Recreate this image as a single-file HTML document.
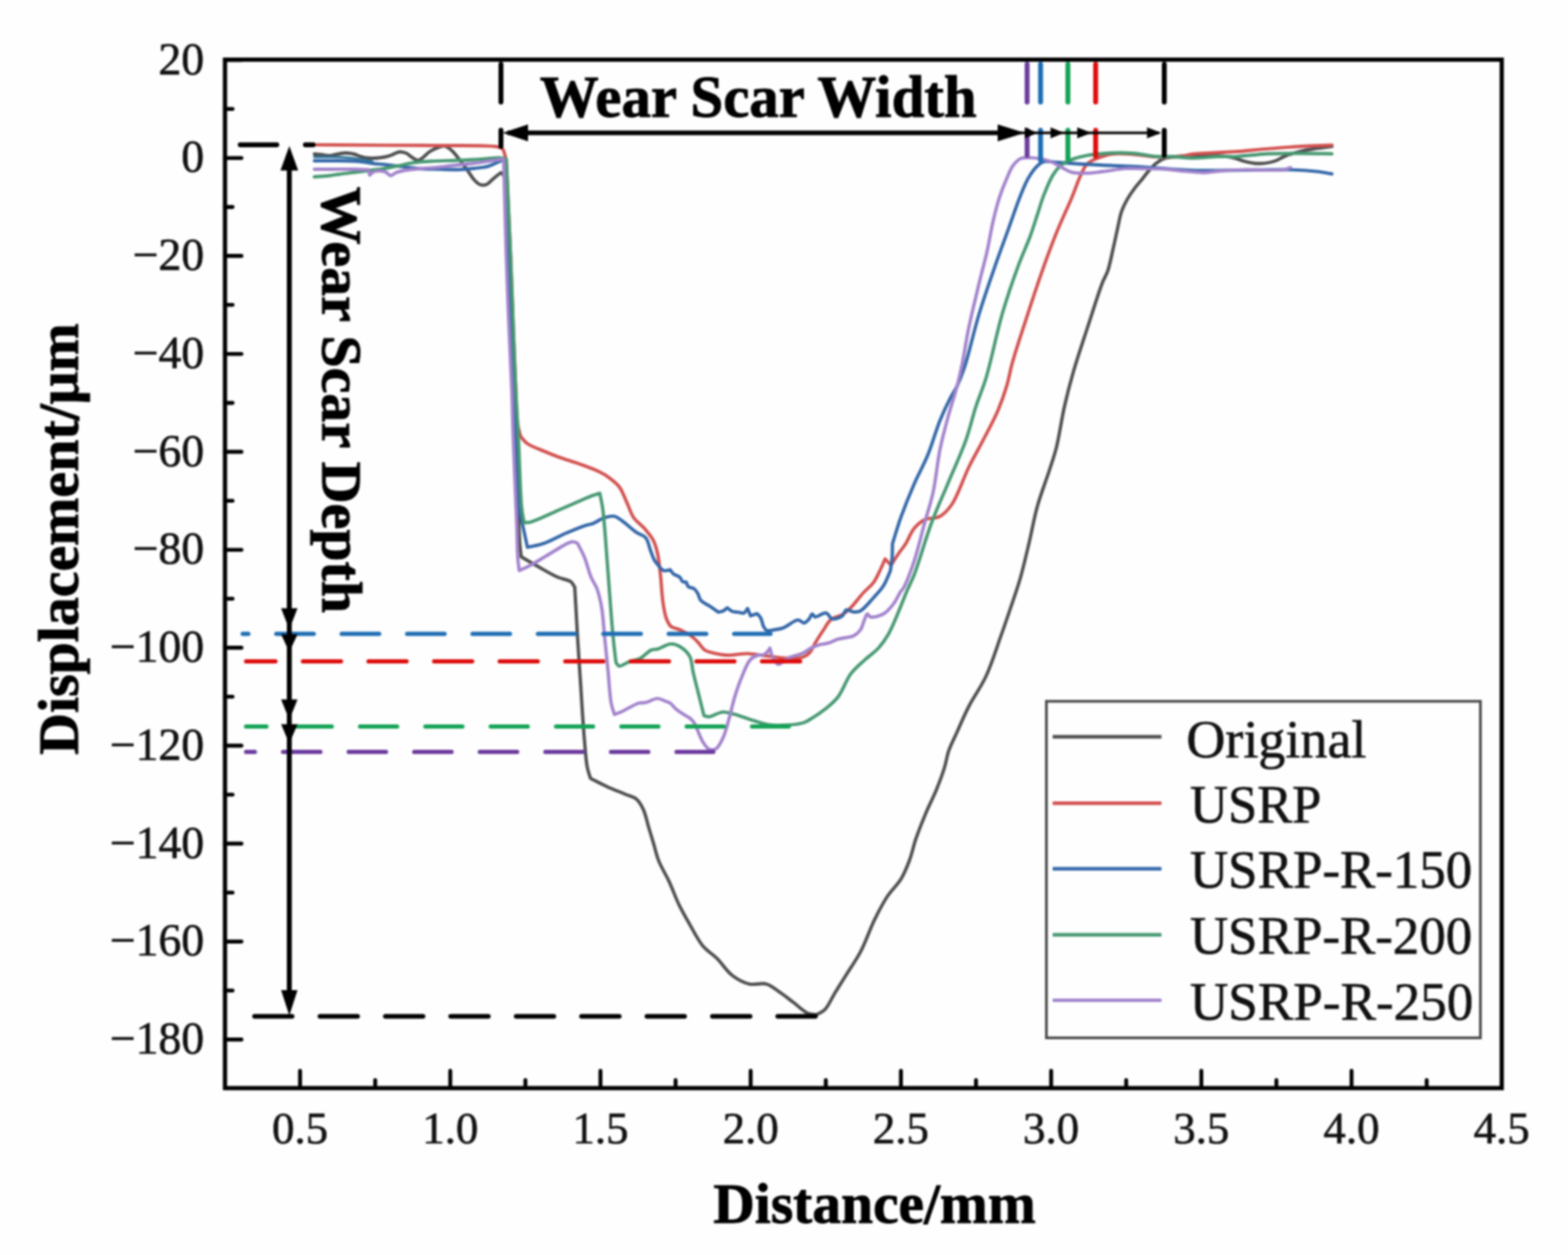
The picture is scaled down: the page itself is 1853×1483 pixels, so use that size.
<!DOCTYPE html><html><head><meta charset="utf-8"><title>Wear scar profile</title>
<style>html,body{margin:0;padding:0;background:#fefefe;overflow:hidden}svg{display:block;filter:blur(1.2px)}text{font-family:"Liberation Serif",serif;stroke:currentColor;stroke-width:0.7px}text.b{stroke-width:1px}</style></head><body>
<svg width="1853" height="1483" viewBox="0 0 1853 1483">
<rect x="0" y="0" width="1853" height="1483" fill="#fefefe"/>
<path d="M371.5,182.0 C373.7,182.2 375.8,182.3 378.0,182.5 C380.3,182.8 382.9,183.2 385.0,183.5 C386.8,183.7 388.3,184.1 390.0,184.0 C391.7,183.9 393.0,183.4 395.0,183.0 C397.8,182.4 401.9,181.3 405.0,181.0 C407.5,180.7 409.8,180.8 412.0,181.0 C414.1,181.2 415.9,181.5 418.0,182.0 C420.3,182.6 422.7,183.7 425.0,184.5 C427.3,185.2 429.6,186.1 432.0,186.5 C434.6,186.9 437.3,187.0 440.0,187.0 C442.7,187.0 445.4,186.8 448.0,186.5 C450.4,186.3 452.7,186.0 455.0,185.5 C457.4,185.0 459.5,184.4 462.0,183.5 C465.1,182.5 468.8,179.8 472.0,179.5 C474.8,179.2 477.5,179.9 480.0,181.0 C482.5,182.1 484.6,184.6 487.0,186.0 C489.3,187.4 491.8,189.6 494.0,189.5 C496.1,189.4 498.0,187.5 500.0,186.0 C502.4,184.3 504.6,181.4 507.3,179.5 C510.2,177.5 513.8,175.8 517.0,174.6 C519.9,173.6 522.8,172.1 525.6,172.6 C528.5,173.1 531.4,175.7 534.0,178.0 C537.0,180.6 539.7,184.5 542.4,187.9 C545.0,191.2 547.7,194.9 550.0,198.0 C551.9,200.5 553.3,202.7 555.0,205.0 C556.7,207.3 558.0,209.9 560.0,212.0 C562.0,214.2 564.4,217.0 567.0,218.0 C569.4,218.9 572.6,218.9 575.0,218.0 C577.6,217.0 579.8,213.9 582.0,212.0 C584.1,210.2 586.2,208.4 588.0,207.0 C589.5,205.9 590.7,205.0 592.0,204.0 C593.2,205.3 594.6,205.8 595.5,208.0 C597.7,213.4 596.9,227.7 597.6,240.0 C598.6,256.9 599.8,278.6 600.8,300.0 C601.9,324.7 602.7,353.3 603.8,380.0 C604.9,406.7 606.2,435.6 607.2,460.0 C608.1,480.6 608.7,495.4 609.5,517.0 C610.6,545.3 612.0,591.7 613.0,615.0 C613.6,627.9 613.8,637.1 614.5,645.0 C614.9,650.2 615.5,653.7 616.0,658.0 C622.5,661.8 628.6,665.5 635.5,669.3 C643.1,673.5 652.5,679.2 659.7,682.3 C665.1,684.6 670.9,684.8 674.3,687.2 C676.7,688.9 677.6,691.5 679.2,693.6 C680.4,714.2 681.5,735.3 682.7,755.5 C683.9,774.8 685.1,793.3 686.4,812.2 C687.6,831.1 688.8,851.8 690.2,868.8 C691.4,882.7 692.2,897.3 694.0,906.6 C695.1,912.2 696.5,915.4 697.8,919.8 C704.1,922.9 710.1,926.2 716.7,929.2 C723.8,932.5 732.8,935.9 739.3,938.7 C744.2,940.8 748.6,941.4 752.1,944.3 C755.6,947.3 758.0,951.7 760.2,956.4 C762.9,962.1 764.3,969.9 766.3,976.6 C768.3,983.4 770.4,990.1 772.4,996.9 C774.4,1003.6 775.7,1010.2 778.4,1017.1 C781.5,1025.0 786.7,1032.9 790.6,1041.4 C794.8,1050.4 798.4,1060.9 802.7,1069.7 C806.6,1077.7 810.4,1084.3 814.9,1092.0 C819.8,1100.5 825.0,1111.2 831.0,1118.3 C836.0,1124.2 841.8,1127.1 847.2,1132.4 C853.3,1138.4 858.7,1147.5 865.5,1152.7 C871.7,1157.4 878.8,1161.2 885.7,1162.8 C892.3,1164.3 899.8,1161.0 905.9,1162.8 C911.9,1164.5 916.8,1169.3 922.1,1172.9 C927.6,1176.6 932.9,1181.0 938.3,1185.0 C943.7,1189.1 949.5,1195.0 954.5,1197.2 C958.1,1198.8 961.2,1198.5 964.6,1199.2 C968.0,1197.2 971.5,1196.3 974.7,1193.1 C979.2,1188.6 982.7,1179.7 986.9,1172.9 C991.2,1166.0 995.4,1159.4 1000.0,1152.0 C1005.2,1143.6 1011.4,1135.2 1016.7,1125.2 C1022.8,1113.7 1028.0,1098.0 1033.7,1086.4 C1038.5,1076.6 1042.9,1068.0 1048.3,1059.7 C1053.4,1051.8 1060.7,1045.5 1065.2,1037.9 C1069.4,1030.9 1072.2,1023.6 1075.0,1016.0 C1077.9,1008.2 1079.3,1000.3 1082.2,991.7 C1085.6,981.8 1090.2,970.2 1094.4,960.2 C1098.3,950.9 1102.8,942.5 1106.5,933.5 C1110.1,924.7 1113.7,915.1 1116.2,906.8 C1118.3,899.9 1118.8,894.0 1121.1,887.4 C1123.6,880.2 1127.2,873.4 1130.8,865.5 C1135.1,855.9 1139.8,844.6 1145.3,834.0 C1151.1,822.8 1158.9,812.5 1164.8,800.0 C1171.5,785.8 1177.3,767.0 1182.4,752.7 C1186.7,740.8 1189.9,731.3 1193.7,720.0 C1197.7,708.1 1202.2,695.7 1205.8,683.0 C1209.6,669.9 1212.6,656.3 1215.9,642.5 C1219.3,628.0 1221.9,612.6 1226.0,598.0 C1230.0,583.6 1236.2,568.0 1240.2,555.5 C1243.3,545.7 1245.7,539.4 1248.3,529.2 C1251.8,515.4 1254.5,495.5 1258.0,480.0 C1261.2,465.9 1264.2,454.1 1268.3,440.0 C1272.9,423.9 1279.0,405.9 1284.7,388.5 C1290.6,370.5 1298.2,345.9 1302.9,333.8 C1305.3,327.7 1307.2,325.6 1309.1,320.2 C1311.6,312.8 1313.6,302.1 1315.6,293.3 C1317.5,284.9 1319.3,276.1 1321.0,268.5 C1322.5,261.9 1323.4,255.7 1325.3,250.1 C1327.1,245.0 1329.3,240.6 1331.8,236.1 C1334.3,231.6 1337.3,227.3 1340.4,223.1 C1343.4,219.0 1347.1,215.1 1350.1,211.3 C1352.8,207.9 1355.0,204.7 1357.7,201.6 C1360.4,198.5 1363.3,195.3 1366.3,192.9 C1369.1,190.7 1371.6,188.9 1375.0,187.6 C1379.2,186.0 1384.1,185.7 1390.0,185.0 C1398.3,184.0 1410.0,183.2 1420.0,183.2 C1430.0,183.2 1442.7,184.1 1450.0,185.0 C1454.3,185.5 1456.8,186.1 1460.0,187.0 C1463.0,187.8 1465.1,189.1 1468.6,190.0 C1473.7,191.3 1481.5,193.3 1488.0,193.3 C1494.5,193.3 1502.2,191.7 1507.5,190.0 C1511.4,188.7 1513.3,186.7 1517.2,185.1 C1522.5,182.9 1530.1,180.4 1536.6,178.8 C1543.0,177.2 1549.6,176.4 1556.0,175.4 C1562.1,174.5 1568.0,173.8 1574.0,173.0" fill="none" stroke="#4e4e4e" stroke-width="3.9" stroke-linejoin="round" stroke-linecap="round"/>
<path d="M371.5,171.1 C399.3,171.3 428.9,171.4 455.0,171.6 C478.0,171.7 498.0,171.7 520.0,172.0 C542.6,172.3 578.7,171.4 588.6,173.6 C591.5,174.3 592.5,174.4 594.0,176.0 C596.3,178.6 596.9,185.3 598.3,190.0 C600.0,226.7 601.9,266.2 603.3,300.0 C604.5,328.8 605.3,353.3 606.3,380.0 C607.3,406.7 608.5,437.9 609.5,460.0 C610.2,475.6 610.0,489.8 611.5,500.0 C612.4,506.5 614.0,510.4 615.2,515.6 C617.6,518.3 619.1,521.2 622.5,523.7 C627.5,527.3 636.9,530.6 643.5,533.4 C649.2,535.9 653.7,537.7 659.7,539.9 C666.9,542.6 676.2,545.2 684.0,548.0 C691.3,550.6 699.0,553.2 705.0,556.0 C709.8,558.2 713.4,559.9 717.5,562.8 C722.2,566.1 727.8,570.1 731.6,575.0 C735.5,580.0 737.5,586.6 740.3,592.6 C743.3,598.9 745.2,606.5 749.0,611.9 C752.4,616.8 757.5,619.7 761.3,624.1 C765.1,628.5 769.3,633.1 771.9,638.2 C774.5,643.1 775.7,648.0 777.1,654.0 C778.8,661.6 779.6,671.1 780.6,680.2 C781.7,689.9 782.0,701.5 783.3,710.5 C784.3,717.7 785.3,724.7 787.2,730.0 C788.7,734.1 790.1,737.8 792.8,740.2 C795.5,742.5 799.6,742.5 803.2,744.1 C807.3,746.0 812.4,748.4 816.1,751.0 C819.4,753.3 822.0,756.0 824.8,758.8 C827.7,761.8 829.7,766.1 833.3,768.4 C837.1,770.8 842.7,771.6 847.3,772.6 C851.6,773.5 855.1,774.1 860.0,774.2 C866.7,774.4 875.8,772.2 883.7,772.4 C891.6,772.6 899.6,774.4 907.5,775.3 C915.4,776.2 923.9,777.6 931.2,777.7 C937.6,777.8 944.3,778.1 949.0,776.5 C952.5,775.3 955.1,773.2 957.4,770.6 C959.9,767.8 961.0,763.7 963.3,759.9 C966.0,755.3 969.6,749.8 972.8,745.0 C975.9,740.4 978.4,734.9 982.3,731.8 C985.9,728.9 991.2,728.7 995.0,726.5 C998.6,724.4 1001.1,722.3 1004.5,719.0 C1009.3,714.4 1015.3,705.9 1020.3,700.5 C1024.4,696.0 1028.8,693.1 1032.1,688.7 C1035.4,684.3 1037.6,678.8 1040.0,674.0 C1042.2,669.4 1044.0,665.0 1046.0,660.5 L1053.0,668.0 C1056.0,663.3 1059.0,658.3 1062.0,654.0 C1064.7,650.1 1067.3,647.2 1070.0,643.0 C1073.4,637.7 1076.3,629.3 1080.4,624.3 C1084.0,620.0 1087.8,616.5 1092.6,614.2 C1097.8,611.7 1105.5,613.1 1110.8,610.2 C1116.3,607.2 1120.3,602.6 1124.9,596.0 C1132.0,585.7 1138.6,564.8 1145.2,551.5 C1150.7,540.3 1155.8,531.8 1161.3,521.2 C1167.3,509.6 1174.6,496.2 1179.5,484.7 C1183.7,474.8 1186.8,465.7 1189.6,456.4 C1192.3,447.5 1193.2,440.2 1196.0,430.0 C1199.9,415.8 1206.3,396.6 1211.9,379.4 C1217.7,361.5 1223.9,342.4 1230.1,324.7 C1236.0,307.8 1242.0,291.2 1248.3,275.6 C1254.2,261.0 1261.3,246.2 1266.5,233.7 C1270.7,223.7 1273.9,213.7 1277.4,206.4 C1279.9,201.3 1281.7,196.8 1284.7,193.7 C1287.3,191.1 1290.0,189.9 1293.8,188.2 C1299.2,185.8 1307.1,183.0 1314.5,182.0 C1322.6,180.9 1331.8,182.0 1340.4,182.5 C1349.1,183.0 1358.6,184.9 1366.4,185.3 C1372.7,185.6 1378.1,185.5 1383.6,185.3 C1388.6,185.2 1393.5,185.1 1398.0,184.5 C1402.1,183.9 1405.7,182.5 1409.5,182.0 C1413.1,181.5 1415.4,181.5 1420.0,181.2 C1428.9,180.6 1446.0,180.2 1458.9,179.3 C1471.9,178.4 1484.8,176.9 1497.7,175.9 C1510.7,174.8 1523.8,173.7 1536.6,173.0 C1549.2,172.3 1561.5,172.0 1574.0,171.5" fill="none" stroke="#d2514f" stroke-width="3.9" stroke-linejoin="round" stroke-linecap="round"/>
<path d="M371.5,190.0 C381.0,190.0 391.3,189.9 400.0,190.0 C407.3,190.1 414.5,190.2 420.0,190.5 C423.9,190.7 426.7,191.1 430.0,191.5 C433.3,191.9 436.3,192.5 440.0,193.0 C444.5,193.6 449.4,193.9 455.0,194.5 C462.3,195.3 472.1,196.6 480.0,197.5 C487.0,198.3 493.3,199.1 500.0,199.5 C506.7,199.9 513.2,199.8 520.0,200.0 C527.2,200.2 535.0,200.7 542.0,200.5 C548.3,200.3 554.1,199.7 560.0,199.0 C565.9,198.3 572.2,197.8 577.5,196.3 C582.1,195.0 586.5,192.5 590.0,191.0 C592.6,189.9 594.5,189.0 596.8,188.0 C598.1,225.3 599.5,265.8 600.8,300.0 C601.9,328.9 602.7,353.3 603.8,380.0 C604.9,406.7 606.2,435.6 607.2,460.0 C608.1,480.6 608.6,496.2 609.5,517.0 C610.5,542.1 610.9,584.5 613.0,600.0 C613.8,606.1 614.8,607.4 616.0,612.7 C617.9,621.3 620.9,635.4 623.3,646.7 C630.0,645.1 636.6,644.2 643.5,641.8 C651.4,639.1 659.7,634.0 667.8,630.5 C675.9,627.0 686.2,622.7 692.1,620.8 C695.4,619.7 697.1,620.0 700.0,618.9 C704.1,617.4 709.4,613.4 714.0,611.9 C718.1,610.6 722.7,609.4 726.3,610.1 C729.6,610.8 731.7,613.1 735.0,615.4 C739.9,618.8 747.4,625.8 752.6,629.4 C756.4,632.0 760.5,632.4 763.1,635.5 C766.1,639.0 766.9,645.5 768.6,650.0 C770.1,654.0 771.3,658.1 773.0,661.2 C774.3,663.6 775.6,665.3 777.3,667.3 C779.2,669.6 781.6,673.3 784.2,674.2 C786.5,675.0 789.4,673.6 792.0,673.3 C793.4,675.0 794.5,677.1 796.3,678.5 C798.2,680.0 801.4,680.4 803.2,682.0 C804.8,683.4 805.2,686.1 806.6,687.1 C807.8,687.9 809.5,687.7 811.0,688.0 C811.8,689.7 812.1,691.9 813.5,693.2 C815.1,694.6 818.5,694.4 820.4,695.8 C822.3,697.2 823.5,699.6 824.8,701.8 C826.2,704.2 826.3,707.4 828.2,709.6 C830.4,712.1 834.4,713.4 837.7,715.6 C841.3,718.0 845.2,720.8 849.0,723.4 C851.0,722.8 853.2,722.6 855.0,721.7 C856.7,720.8 857.9,719.4 859.3,718.2 C861.3,719.6 863.2,721.6 865.4,722.5 C867.5,723.3 870.0,723.1 872.3,723.4 C874.6,723.7 877.3,725.0 879.2,724.3 C881.0,723.6 882.1,720.8 883.5,719.1 L887.0,727.7 L894.7,725.1 C896.1,726.8 897.8,728.1 899.0,730.3 C900.5,733.1 901.1,738.1 902.5,740.7 C903.5,742.6 904.4,744.3 906.0,745.0 C907.9,745.8 910.7,744.9 913.4,744.5 C916.9,744.0 921.1,743.6 925.3,742.1 C930.8,740.1 938.5,732.6 943.1,732.6 C946.0,732.6 948.0,736.4 950.2,736.2 C952.4,736.0 954.6,733.2 956.2,731.4 C957.7,729.7 958.4,725.7 959.7,725.5 C960.8,725.4 961.6,728.6 963.3,729.0 C966.2,729.6 972.8,723.5 976.3,724.3 C979.3,725.0 980.5,730.7 983.5,731.4 C986.8,732.2 992.5,730.0 995.3,727.9 C997.7,726.1 997.9,721.5 1000.1,720.7 C1002.3,719.9 1005.6,722.9 1008.4,723.1 C1011.1,723.3 1013.8,723.4 1016.7,721.9 C1021.4,719.5 1027.4,711.6 1032.1,706.5 C1036.4,701.7 1040.7,697.4 1044.0,692.2 C1047.4,686.9 1049.4,680.7 1052.1,674.9 C1052.8,669.9 1053.8,665.2 1054.2,660.0 C1054.7,654.4 1054.5,648.3 1054.7,642.5 C1057.9,632.4 1060.5,623.0 1064.3,612.2 C1068.8,599.6 1074.8,584.6 1080.4,571.7 C1085.6,559.7 1091.7,549.4 1096.6,537.3 C1101.8,524.5 1106.0,508.8 1110.8,496.9 C1114.8,487.1 1119.1,478.0 1122.9,470.6 C1125.7,465.1 1128.4,461.7 1131.0,456.4 C1134.0,450.1 1136.4,444.2 1139.5,435.0 C1144.7,419.4 1151.0,390.9 1157.3,370.3 C1163.1,351.2 1169.5,333.0 1175.5,315.6 C1181.0,299.7 1186.6,284.8 1191.9,270.1 C1196.9,256.3 1201.9,241.1 1206.4,230.1 C1209.6,222.2 1211.9,216.0 1215.5,210.0 C1218.7,204.6 1222.9,198.8 1226.5,195.5 C1228.9,193.2 1230.7,191.7 1233.7,190.9 C1237.6,189.9 1242.7,191.4 1248.3,191.8 C1256.0,192.3 1265.8,193.1 1275.6,193.7 C1286.9,194.4 1299.8,194.9 1312.0,195.5 C1324.3,196.1 1337.2,196.4 1349.0,197.1 C1359.8,197.8 1369.0,198.8 1380.0,199.5 C1392.5,200.3 1405.9,201.2 1420.0,201.5 C1435.7,201.8 1452.8,201.1 1470.0,201.0 C1488.4,200.8 1511.2,200.1 1527.0,200.6 C1538.3,200.9 1547.5,201.6 1556.0,202.6 C1562.7,203.4 1568.0,204.5 1574.0,205.5" fill="none" stroke="#3367a8" stroke-width="3.9" stroke-linejoin="round" stroke-linecap="round"/>
<path d="M371.5,185.4 C377.7,185.4 383.7,185.4 390.0,185.5 C396.5,185.6 403.8,185.7 410.0,186.2 C415.4,186.6 420.0,187.2 425.0,188.0 C430.0,188.8 435.0,190.0 440.0,191.0" fill="none" stroke="#33749a" stroke-width="3.0" stroke-linejoin="round" stroke-linecap="round"/>
<path d="M371.5,209.0 C377.7,208.5 384.8,208.1 390.0,207.5 C393.9,207.1 396.1,206.5 400.0,206.0 C405.5,205.2 413.3,204.3 420.0,203.5 C426.7,202.7 433.8,201.8 440.0,201.0 C445.4,200.3 450.0,199.8 455.0,199.0 C460.0,198.2 464.6,197.1 470.0,196.0 C476.2,194.8 483.3,192.9 490.0,192.0 C496.6,191.1 502.7,190.9 510.0,190.5 C519.0,190.0 530.0,189.9 540.0,189.5 C550.0,189.1 561.0,188.6 570.0,188.0 C577.3,187.5 584.8,186.2 590.0,186.5 C593.4,186.7 595.5,187.5 598.3,188.0 C600.0,225.3 601.9,265.8 603.3,300.0 C604.5,328.9 605.3,353.3 606.3,380.0 C607.3,406.7 608.3,435.6 609.5,460.0 C610.5,480.6 611.5,496.2 612.6,517.0 C613.9,542.1 614.7,582.6 616.5,600.0 C617.3,608.1 618.4,611.7 619.3,617.6 C622.0,617.3 623.9,617.7 627.4,616.8 C634.7,614.9 649.5,607.4 659.7,603.0 C668.8,599.1 678.2,594.9 685.6,591.7 C691.1,589.3 695.8,587.1 700.0,585.6 C703.3,584.4 705.9,583.8 708.8,582.9 C710.0,589.0 711.2,593.3 712.3,601.3 C714.3,615.7 715.8,641.6 717.5,662.7 C719.3,685.3 721.3,714.9 722.8,732.8 C723.7,744.0 724.4,751.3 725.3,760.0 C726.1,768.0 727.1,775.3 728.0,783.0 C729.2,784.4 729.8,786.7 731.6,787.1 C734.3,787.7 739.7,783.4 743.8,781.9 C747.9,780.4 752.0,780.2 756.1,778.2 C760.8,775.8 766.0,769.5 770.1,767.9 C772.7,766.9 774.4,767.7 777.2,767.0 C781.5,765.9 788.1,761.1 792.9,760.9 C796.8,760.7 800.4,762.2 803.8,764.2 C807.8,766.6 812.4,770.7 815.0,775.4 C817.9,780.7 817.6,788.0 819.3,795.1 C821.3,803.6 824.1,814.3 826.3,823.1 C828.3,831.0 830.0,838.1 831.9,845.6 C833.8,846.1 835.1,847.1 837.5,847.0 C841.6,846.8 848.9,841.7 854.3,841.4 C859.2,841.1 863.3,842.8 868.4,844.2 C874.8,845.9 882.4,849.1 889.4,851.2 C896.4,853.3 903.4,855.9 910.5,856.8 C917.4,857.7 924.8,857.3 931.5,856.8 C937.8,856.3 944.7,855.7 949.8,854.0 C953.8,852.6 956.3,850.7 960.0,848.4 C964.6,845.6 970.1,841.9 975.0,838.0 C980.2,833.8 985.4,829.9 990.0,824.0 C995.8,816.6 999.8,803.8 1005.5,796.2 C1010.3,789.9 1015.6,785.6 1021.0,780.6 C1026.5,775.5 1033.2,771.2 1038.1,765.8 C1042.8,760.7 1046.3,755.6 1050.0,749.2 C1054.3,741.7 1058.2,731.6 1061.8,723.1 C1065.2,715.0 1068.1,707.0 1071.3,699.4 C1074.3,692.3 1077.0,687.7 1080.4,679.0 C1086.1,664.3 1093.6,637.3 1100.7,618.3 C1107.1,601.1 1114.2,585.9 1120.9,569.7 C1127.6,553.5 1135.5,536.8 1141.1,521.2 C1146.1,507.2 1149.0,493.6 1153.2,480.7 C1157.1,468.7 1161.2,460.1 1165.4,446.3 C1171.5,426.0 1177.8,393.4 1184.6,370.3 C1190.4,350.5 1196.8,331.9 1202.8,315.6 C1207.7,302.2 1213.2,290.5 1217.4,279.2 C1221.0,269.5 1223.6,260.5 1226.5,251.9 C1229.0,244.2 1230.8,237.4 1233.7,230.1 C1236.8,222.3 1240.7,212.6 1244.6,206.4 C1247.5,201.8 1250.4,198.3 1253.7,195.5 C1256.5,193.1 1259.0,191.7 1262.8,190.0 C1268.4,187.6 1276.8,185.2 1284.7,183.7 C1293.8,181.9 1304.9,181.1 1314.5,180.7 C1323.4,180.3 1331.8,180.5 1340.4,181.2 C1349.1,181.9 1358.6,184.4 1366.4,185.0 C1372.7,185.5 1377.3,184.8 1383.6,185.0 C1391.4,185.3 1400.5,186.8 1409.5,186.8 C1419.2,186.9 1431.0,185.2 1440.0,185.0 C1447.0,184.8 1451.5,185.4 1458.9,185.1 C1469.5,184.7 1484.7,182.3 1497.7,181.7 C1510.6,181.1 1523.8,181.2 1536.6,181.2 C1549.2,181.2 1561.5,181.5 1574.0,181.7" fill="none" stroke="#469872" stroke-width="3.9" stroke-linejoin="round" stroke-linecap="round"/>
<path d="M371.5,200.0 C387.7,200.0 408.4,199.8 420.0,200.0 C426.4,200.1 430.0,200.3 435.0,200.5 L437.0,207.0 C438.5,205.7 439.5,203.8 441.6,203.0 C444.8,201.8 451.4,201.9 455.0,203.0 C457.9,203.8 459.7,207.5 462.0,207.5 C464.1,207.5 465.6,205.0 468.0,204.0 C471.2,202.7 475.5,201.8 480.0,201.0 C485.8,200.0 493.3,199.6 500.0,199.0 C506.7,198.4 513.3,198.2 520.0,197.5 C526.7,196.8 533.3,195.8 540.0,195.0 C546.7,194.3 553.3,193.8 560.0,193.0 C566.7,192.2 573.8,190.9 580.0,190.0 C585.4,189.2 590.1,188.7 595.2,188.0 C596.2,225.3 597.1,265.8 598.2,300.0 C599.1,328.9 600.1,353.3 601.2,380.0 C602.3,406.7 603.9,435.6 604.8,460.0 C605.6,480.6 605.7,495.4 606.5,517.0 C607.5,545.3 609.5,588.6 610.5,615.0 C611.2,632.9 611.2,649.2 612.0,660.0 C612.4,666.1 613.1,669.5 613.6,674.2 C618.2,672.0 622.2,670.5 627.4,667.7 C634.4,664.0 643.5,657.8 651.6,653.2 C659.6,648.6 670.3,640.9 675.9,640.2 C678.7,639.9 680.2,641.3 682.4,641.8 C685.1,647.2 688.0,652.0 690.5,658.0 C693.5,665.2 695.7,675.6 698.6,682.3 C700.7,687.3 703.4,690.1 705.3,695.1 C707.7,701.5 709.5,709.2 711.0,717.8 C712.9,728.7 713.5,742.9 714.8,755.5 C716.1,768.1 717.3,780.7 718.6,793.3 C719.8,805.9 720.5,821.7 722.3,831.0 C723.4,836.6 724.8,839.9 726.1,844.3 C729.3,843.0 731.9,842.2 735.6,840.5 C740.9,838.1 749.2,832.5 754.4,831.0 C757.7,830.0 759.9,830.9 763.1,830.2 C767.3,829.3 772.8,825.4 777.1,825.4 C780.7,825.4 784.2,827.7 787.0,828.8 C789.0,829.6 790.5,829.8 792.2,831.0 C794.3,832.4 795.7,835.1 798.2,837.2 C801.6,840.1 808.0,844.3 811.1,846.2 C812.7,847.2 813.7,847.4 815.0,848.4 C816.7,849.7 818.6,851.7 820.0,853.7 C821.5,855.8 822.2,858.1 823.5,861.0 C825.5,865.2 827.8,872.3 830.5,876.5 C832.6,879.9 834.7,883.6 837.5,884.9 C840.0,886.1 843.5,886.3 846.0,884.9 C849.3,883.1 851.9,877.2 854.3,872.2 C857.3,866.0 859.1,857.6 861.4,849.8 C863.9,841.3 865.8,831.6 868.4,823.1 C870.9,815.1 873.5,807.4 876.6,800.0 C879.6,792.9 882.5,784.0 886.6,779.6 C889.5,776.5 893.6,774.7 896.4,774.0 C898.3,773.5 899.9,774.7 901.6,774.2 C903.5,773.6 905.6,771.5 907.0,770.0 C908.2,768.7 908.9,767.2 909.9,765.8 C910.7,768.6 910.9,771.3 912.2,774.2 C913.8,777.7 916.3,784.1 919.4,784.8 C922.6,785.5 926.7,779.8 931.2,777.7 C936.4,775.3 944.1,774.1 949.0,771.8 C952.8,770.0 955.4,767.4 958.5,765.8 C961.3,764.3 963.8,763.2 966.9,762.3 C970.5,761.2 974.8,761.1 978.7,759.9 C982.7,758.7 986.2,756.5 990.6,755.2 C995.9,753.6 1003.8,753.8 1008.4,751.6 C1012.0,749.9 1014.6,747.5 1016.7,744.5 C1019.0,741.3 1020.0,736.0 1021.5,732.6 C1022.7,729.9 1023.6,725.7 1025.0,725.5 C1026.1,725.3 1026.8,728.5 1028.6,729.0 C1031.8,729.9 1039.5,728.0 1044.0,725.5 C1048.6,722.9 1052.5,718.0 1055.9,713.6 C1059.3,709.2 1062.0,702.6 1064.3,699.2 C1065.6,697.2 1066.5,697.0 1067.8,694.6 C1071.0,688.9 1076.5,674.4 1080.4,662.8 C1084.9,649.3 1088.7,632.4 1092.6,618.3 C1096.1,605.5 1099.8,595.0 1102.7,581.8 C1106.1,566.4 1107.6,547.1 1110.8,531.3 C1113.7,517.0 1117.4,503.7 1120.9,490.8 C1124.1,478.8 1128.2,467.1 1131.0,456.4 C1133.4,447.1 1135.1,439.9 1137.1,430.1 C1139.6,417.8 1141.6,403.3 1144.6,388.5 C1148.1,371.5 1153.4,350.2 1157.3,333.8 C1160.5,320.4 1163.7,309.6 1166.4,297.4 C1169.1,285.3 1171.1,272.2 1173.7,261.0 C1176.0,251.2 1178.2,242.4 1181.0,233.7 C1183.7,225.4 1187.1,216.9 1190.1,210.0 C1192.5,204.5 1194.3,199.4 1197.3,195.5 C1199.9,192.1 1202.9,188.8 1206.4,187.3 C1209.7,185.9 1213.1,186.2 1217.4,186.4 C1223.4,186.6 1232.8,187.9 1239.2,190.0 C1244.7,191.8 1249.0,194.9 1253.7,197.3 C1258.1,199.5 1261.7,202.4 1266.5,203.7 C1271.9,205.1 1278.6,204.7 1284.7,204.6 C1290.8,204.5 1296.2,203.6 1302.9,202.8 C1311.0,201.8 1321.7,199.6 1330.0,199.1 C1336.9,198.7 1342.2,199.2 1349.0,199.3 C1357.0,199.4 1366.4,199.2 1375.0,199.7 C1383.7,200.2 1392.7,201.6 1400.9,202.3 C1408.4,203.0 1415.7,204.1 1422.5,204.0 C1428.6,203.9 1433.4,202.8 1440.0,202.3 C1448.4,201.6 1457.8,200.9 1468.6,200.6 C1482.7,200.2 1508.0,202.1 1517.2,200.6 C1521.0,200.0 1522.4,198.9 1525.0,198.0" fill="none" stroke="#a283cc" stroke-width="3.9" stroke-linejoin="round" stroke-linecap="round"/>
<path d="M283.8,171.1H327.2M360.8,171.1H370.2" stroke="#000" stroke-width="5.6" stroke-linecap="round" fill="none"/>
<path d="M286.8,749.1H293.5M326.5,749.1H370.8M403.8,749.1H448.1M481.1,749.1H525.4M558.4,749.1H602.7M635.7,749.1H680.0M713.0,749.1H757.3M790.3,749.1H834.6M867.6,749.1H910.5" stroke="#1d6db3" stroke-width="5" stroke-linecap="round" fill="none"/>
<path d="M290.8,781.5H325.5M358.0,781.5H403.0M435.5,781.5H480.5M513.0,781.5H558.0M590.5,781.5H635.5M668.0,781.5H713.0M745.5,781.5H790.5M823.0,781.5H868.0M900.5,781.5H945.5" stroke="#de0c0c" stroke-width="5" stroke-linecap="round" fill="none"/>
<path d="M290.8,858.4H314.9M348.3,858.4H392.1M425.5,858.4H469.3M502.7,858.4H546.5M579.9,858.4H623.7M657.1,858.4H700.9M734.3,858.4H778.1M811.5,858.4H855.3M888.7,858.4H932.1" stroke="#13a356" stroke-width="5" stroke-linecap="round" fill="none"/>
<path d="M290.8,888.4H301.2M334.5,888.4H378.7M412.0,888.4H456.2M489.5,888.4H533.7M567.0,888.4H611.2M644.5,888.4H688.7M722.0,888.4H766.2M799.5,888.4H843.0" stroke="#6c3b9e" stroke-width="5" stroke-linecap="round" fill="none"/>
<path d="M300.8,1201.1H345.2M378.1,1201.1H422.6M455.4,1201.1H499.9M532.6,1201.1H577.1M610.0,1201.1H654.5M687.2,1201.1H731.8M764.5,1201.1H809.0M841.9,1201.1H886.4M919.1,1201.1H963.6" stroke="#000" stroke-width="5.5" stroke-linecap="round" fill="none"/>
<line x1="341.9" y1="195" x2="341.9" y2="1175" stroke="#000" stroke-width="5.8"/>
<path d="M341.9,172.5 L331.4,201.5 L352.4,201.5 Z" fill="#000"/>
<path d="M341.9,743.8 L332.2,718.8 L351.6,718.8 Z" fill="#000"/>
<path d="M341.9,770.5 L332.2,749.5 L351.6,749.5 Z" fill="#000"/>
<path d="M341.9,850.6 L332.2,826.6 L351.6,826.6 Z" fill="#000"/>
<path d="M341.9,878.8 L332.2,855.8 L351.6,855.8 Z" fill="#000"/>
<path d="M341.9,1200.0 L332.2,1170.0 L351.6,1170.0 Z" fill="#000"/>
<path d="M592.0,76V120.5M592.0,154V173.0" stroke="#000" stroke-width="5.8" stroke-linecap="round" fill="none"/>
<path d="M1213.8,76V120.5M1213.8,154V183.5" stroke="#6c3b9e" stroke-width="5.8" stroke-linecap="round" fill="none"/>
<path d="M1229.7,76V120.5M1229.7,154V189.5" stroke="#1d6db3" stroke-width="5.8" stroke-linecap="round" fill="none"/>
<path d="M1262.0,76V120.5M1262.0,154V188.5" stroke="#13a356" stroke-width="5.8" stroke-linecap="round" fill="none"/>
<path d="M1294.8,76V120.5M1294.8,154V184.5" stroke="#de0c0c" stroke-width="5.8" stroke-linecap="round" fill="none"/>
<path d="M1375.9,76V120.5M1375.9,154V183.5" stroke="#000" stroke-width="5.8" stroke-linecap="round" fill="none"/>
<line x1="600" y1="157" x2="1200" y2="157" stroke="#000" stroke-width="5.6"/>
<line x1="1200" y1="157" x2="1370" y2="157" stroke="#000" stroke-width="3"/>
<path d="M594.0,157.0 L624.0,147.0 L624.0,167.0 Z" fill="#000"/>
<path d="M1211.0,157.0 L1179.0,147.0 L1179.0,167.0 Z" fill="#000"/>
<path d="M1226.0,157.0 L1211.0,150.5 L1211.0,163.5 Z" fill="#000"/>
<path d="M1257.5,157.0 L1241.5,150.5 L1241.5,163.5 Z" fill="#000"/>
<path d="M1290.0,157.0 L1273.0,150.5 L1273.0,163.5 Z" fill="#000"/>
<path d="M1372.5,157.0 L1355.5,150.5 L1355.5,163.5 Z" fill="#000"/>
<rect x="265.9" y="70.5" width="1508.8" height="1215.3" fill="none" stroke="#000" stroke-width="5"/>
<path d="M265.9,71.0H285.4M265.9,128.8H274.9M265.9,186.7H285.4M265.9,244.6H274.9M265.9,302.4H285.4M265.9,360.3H274.9M265.9,418.2H285.4M265.9,476.1H274.9M265.9,533.9H285.4M265.9,591.8H274.9M265.9,649.7H285.4M265.9,707.5H274.9M265.9,765.4H285.4M265.9,823.3H274.9M265.9,881.1H285.4M265.9,939.0H274.9M265.9,996.9H285.4M265.9,1054.8H274.9M265.9,1112.6H285.4M265.9,1170.5H274.9M265.9,1228.4H285.4M354.6,1285.8V1265.3M443.4,1285.8V1276.3M532.1,1285.8V1265.3M620.9,1285.8V1276.3M709.6,1285.8V1265.3M798.4,1285.8V1276.3M887.1,1285.8V1265.3M975.9,1285.8V1276.3M1064.7,1285.8V1265.3M1153.4,1285.8V1276.3M1242.2,1285.8V1265.3M1330.9,1285.8V1276.3M1419.7,1285.8V1265.3M1508.4,1285.8V1276.3M1597.2,1285.8V1265.3M1686.0,1285.8V1276.3" stroke="#000" stroke-width="4.6" stroke-linecap="round" fill="none"/>
<text x="241.2" y="87.7" font-size="54" text-anchor="end" fill="#111" color="#111">20</text>
<text x="241.2" y="203.4" font-size="54" text-anchor="end" fill="#111" color="#111">0</text>
<text x="241.2" y="319.1" font-size="54" text-anchor="end" fill="#111" color="#111">−20</text>
<text x="241.2" y="434.9" font-size="54" text-anchor="end" fill="#111" color="#111">−40</text>
<text x="241.2" y="550.6" font-size="54" text-anchor="end" fill="#111" color="#111">−60</text>
<text x="241.2" y="666.4" font-size="54" text-anchor="end" fill="#111" color="#111">−80</text>
<text x="241.2" y="782.1" font-size="54" text-anchor="end" fill="#111" color="#111">−100</text>
<text x="241.2" y="897.8" font-size="54" text-anchor="end" fill="#111" color="#111">−120</text>
<text x="241.2" y="1013.6" font-size="54" text-anchor="end" fill="#111" color="#111">−140</text>
<text x="241.2" y="1129.3" font-size="54" text-anchor="end" fill="#111" color="#111">−160</text>
<text x="241.2" y="1245.1" font-size="54" text-anchor="end" fill="#111" color="#111">−180</text>
<text x="354.6" y="1350.5" font-size="53" text-anchor="middle" fill="#111" color="#111">0.5</text>
<text x="532.1" y="1350.5" font-size="53" text-anchor="middle" fill="#111" color="#111">1.0</text>
<text x="709.6" y="1350.5" font-size="53" text-anchor="middle" fill="#111" color="#111">1.5</text>
<text x="887.1" y="1350.5" font-size="53" text-anchor="middle" fill="#111" color="#111">2.0</text>
<text x="1064.7" y="1350.5" font-size="53" text-anchor="middle" fill="#111" color="#111">2.5</text>
<text x="1242.2" y="1350.5" font-size="53" text-anchor="middle" fill="#111" color="#111">3.0</text>
<text x="1419.7" y="1350.5" font-size="53" text-anchor="middle" fill="#111" color="#111">3.5</text>
<text x="1597.2" y="1350.5" font-size="53" text-anchor="middle" fill="#111" color="#111">4.0</text>
<text x="1774.7" y="1350.5" font-size="53" text-anchor="middle" fill="#111" color="#111">4.5</text>
<text x="843" y="1445.4" font-size="68.5" font-weight="bold" class="b" textLength="381" lengthAdjust="spacingAndGlyphs" fill="#000" color="#000">Distance/mm</text>
<text transform="translate(92,892) rotate(-90)" x="0" y="0" font-size="68.5" font-weight="bold" class="b" textLength="510" lengthAdjust="spacingAndGlyphs" fill="#000" color="#000">Displacement/μm</text>
<text x="637.9" y="137.8" font-size="69" font-weight="bold" class="b" textLength="516.2" lengthAdjust="spacingAndGlyphs" fill="#000" color="#000">Wear Scar Width</text>
<text transform="translate(381,220.5) rotate(90)" x="0" y="0" font-size="68.5" font-weight="bold" class="b" textLength="504" lengthAdjust="spacingAndGlyphs" fill="#000" color="#000">Wear Scar Depth</text>
<rect x="1236.6" y="828.7" width="512.9" height="397.7" fill="#fefefe" stroke="#4a4a4a" stroke-width="3.2"/>
<line x1="1244" y1="870.6" x2="1372.6" y2="870.6" stroke="#4e4e4e" stroke-width="4.2"/>
<text x="1402.0" y="894.8" font-size="64" textLength="212.8" lengthAdjust="spacingAndGlyphs" fill="#111" color="#111">Original</text>
<line x1="1244" y1="949.1" x2="1372.6" y2="949.1" stroke="#d2514f" stroke-width="4.2"/>
<text x="1406.3" y="972.0" font-size="64" textLength="155.3" lengthAdjust="spacingAndGlyphs" fill="#111" color="#111">USRP</text>
<line x1="1244" y1="1026.6" x2="1372.6" y2="1026.6" stroke="#3367a8" stroke-width="4.2"/>
<text x="1406.2" y="1049.3" font-size="64" textLength="333.7" lengthAdjust="spacingAndGlyphs" fill="#111" color="#111">USRP-R-150</text>
<line x1="1244" y1="1104.6" x2="1372.6" y2="1104.6" stroke="#469872" stroke-width="4.2"/>
<text x="1406.2" y="1127.0" font-size="64" textLength="333.7" lengthAdjust="spacingAndGlyphs" fill="#111" color="#111">USRP-R-200</text>
<line x1="1244" y1="1182.0" x2="1372.6" y2="1182.0" stroke="#a283cc" stroke-width="4.2"/>
<text x="1406.2" y="1204.5" font-size="64" textLength="334.9" lengthAdjust="spacingAndGlyphs" fill="#111" color="#111">USRP-R-250</text>
</svg></body></html>
